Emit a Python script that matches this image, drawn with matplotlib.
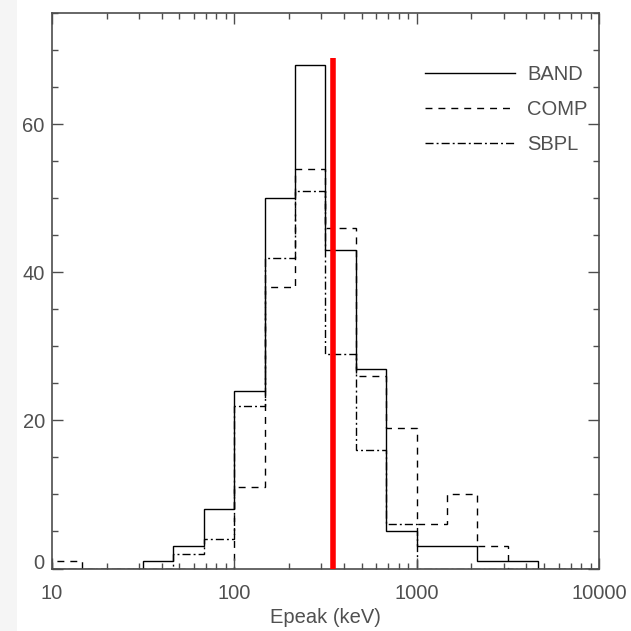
import matplotlib.pyplot as plt
from matplotlib.patches import Rectangle
from matplotlib.transforms import ScaledTranslation
from matplotlib.ticker import LogLocator, MultipleLocator, FixedLocator, NullFormatter

# log-spaced Epeak bins (6 per decade), keV
bin_edges = [10, 14.68, 21.54, 31.62, 46.42, 68.13, 100, 146.8, 215.4, 316.2,
             464.2, 681.3, 1000, 1467.8, 2154.4, 3162.3, 4641.6, 6812.9, 10000]

# counts per bin for each spectral model
band_counts = [0, 0, 0, 1, 3, 8, 24, 50, 68, 43, 27, 5, 3, 3, 1, 1, 0, 0]
comp_counts = [1, 0, 0, 0, 0, 0, 11, 38, 54, 46, 26, 19, 6, 10, 3, 0, 0, 0]
sbpl_counts = [0, 0, 0, 0, 2, 4, 22, 42, 51, 29, 16, 6, 0, 0, 0, 0, 0, 0]

model_names = ['BAND', 'COMP', 'SBPL']
epeak_marker = 347      # keV
marker_height = 69

x_ticks = [10, 100, 1000, 10000]
x_ticklabels = ['10', '100', '1000', '10000']
y_ticks = [0, 20, 40, 60]

text_color = '#505050'
axis_color = '#4d4d4d'

plt.rcParams['font.family'] = ['Liberation Sans', 'DejaVu Sans']
plt.rcParams['font.size'] = 14.5

fig = plt.figure(figsize=(6.31, 6.31), dpi=100)
fig.patches.append(Rectangle((0, 0), 17 / 631, 1, transform=fig.transFigure,
                             facecolor='#f5f5f5', edgecolor='none', zorder=0))
ax = fig.add_axes([51.7 / 631, 1 - 568.5 / 631, (599 - 51.7) / 631, (568.5 - 13.3) / 631])

styles = [
    dict(linestyle='-'),
    dict(linestyle=(0, (5.0, 4.3))),
    dict(linestyle=(0, (5.8, 2.2, 1.4, 2.2))),
]
for counts, name, st in zip([band_counts, comp_counts, sbpl_counts], model_names, styles):
    ax.stairs(counts, bin_edges, baseline=0, fill=False, color='black',
              linewidth=1.0, label=name, **st)

# mean Epeak marker
ax.plot([epeak_marker, epeak_marker], [0, marker_height], color='#ff0000',
        linewidth=4.0, solid_capstyle='butt', zorder=3)

ax.set_xscale('log')
ax.set_xlim(10, 10000)
ax.set_ylim(0, 75)

ax.xaxis.set_major_locator(FixedLocator(x_ticks))
ax.set_xticklabels(x_ticklabels)
ax.xaxis.set_minor_locator(LogLocator(base=10, subs=range(2, 10)))
ax.xaxis.set_minor_formatter(NullFormatter())
ax.yaxis.set_major_locator(FixedLocator(y_ticks))
ax.yaxis.set_minor_locator(MultipleLocator(5))

ax.tick_params(which='both', direction='in', top=True, right=True,
               color=axis_color, width=1.0, labelcolor=text_color)
ax.tick_params(which='major', length=8)
ax.tick_params(which='minor', length=4)
ax.tick_params(axis='x', which='major', pad=11)
ax.tick_params(axis='y', which='major', pad=5)

# lift the "0" label a little off the bottom axis
zero_lab = ax.yaxis.get_major_ticks()[0].label1
zero_lab.set_transform(zero_lab.get_transform() + ScaledTranslation(0, 0.07, fig.dpi_scale_trans))

for sp in ax.spines.values():
    sp.set_color(axis_color)
    sp.set_linewidth(1.2)

ax.set_xlabel('Epeak (keV)', color=text_color, labelpad=4)

leg = ax.legend(loc='upper left', bbox_to_anchor=(0.682, 0.907), frameon=False,
                handlelength=4.45, handletextpad=0.62, labelspacing=0.79,
                borderpad=0, borderaxespad=0)
for t in leg.get_texts():
    t.set_color(text_color)
for h in leg.get_lines():
    h.set_linewidth(1.0)

fig.savefig('out.png', dpi=100)
